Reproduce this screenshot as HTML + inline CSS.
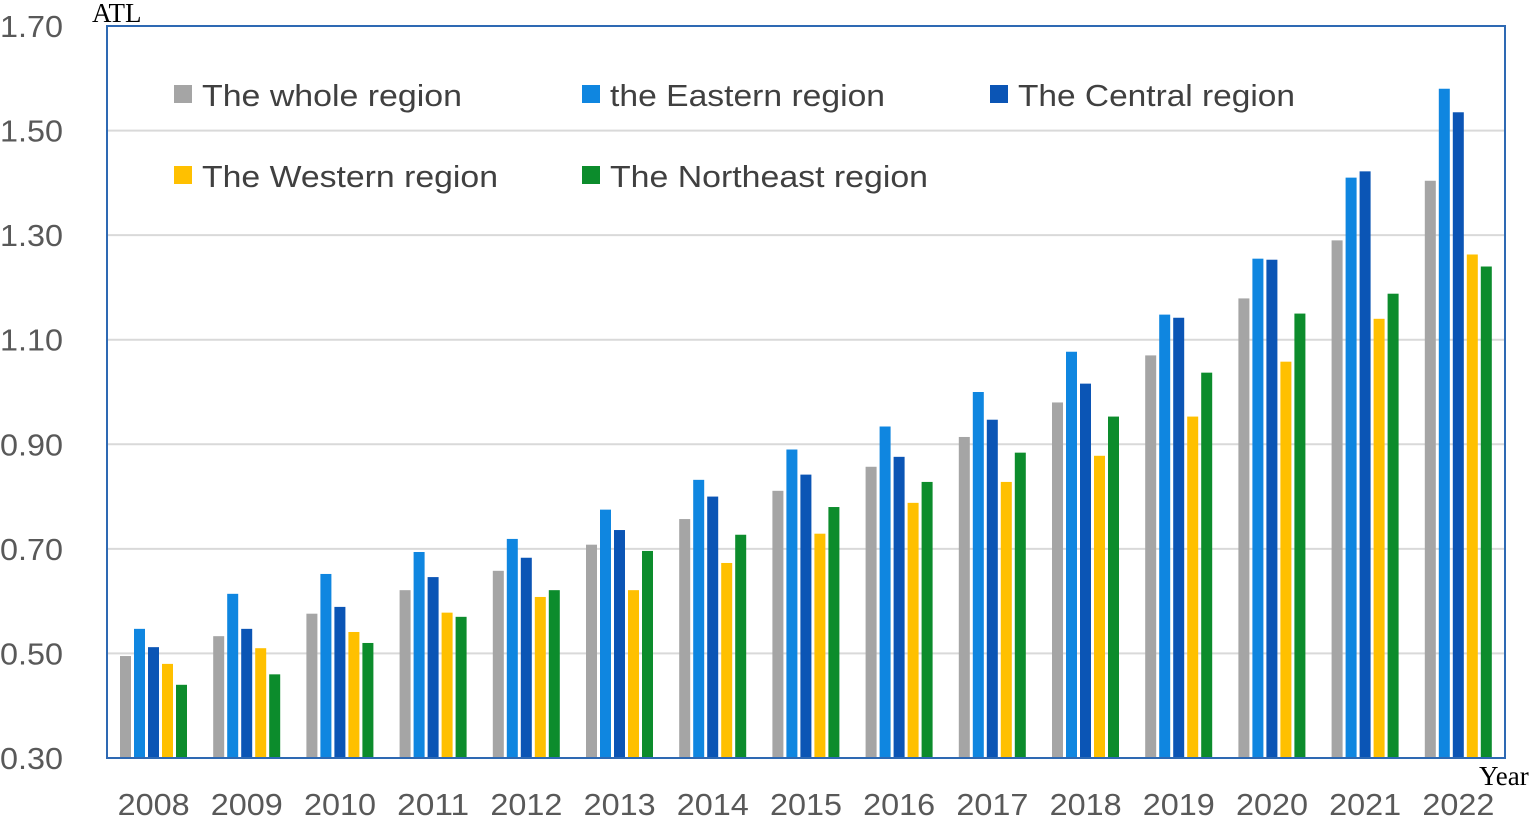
<!DOCTYPE html>
<html><head><meta charset="utf-8"><style>
html,body{margin:0;padding:0;background:#fff;width:1537px;height:817px;overflow:hidden}
svg{display:block;font-family:"Liberation Sans",sans-serif}
</style></head><body>
<svg id="chart" width="1537" height="817" xmlns="http://www.w3.org/2000/svg"></svg>
<script>
const categories=["2008","2009","2010","2011","2012","2013","2014","2015","2016","2017","2018","2019","2020","2021","2022"];
const wholeRegion=[0.495,0.533,0.576,0.621,0.658,0.708,0.757,0.811,0.857,0.914,0.980,1.070,1.179,1.290,1.404];
const easternRegion=[0.547,0.614,0.652,0.694,0.719,0.775,0.832,0.890,0.934,1.000,1.077,1.148,1.255,1.410,1.580];
const centralRegion=[0.512,0.547,0.589,0.646,0.683,0.736,0.800,0.842,0.876,0.947,1.016,1.142,1.253,1.422,1.535];
const westernRegion=[0.480,0.510,0.541,0.578,0.608,0.621,0.673,0.729,0.788,0.828,0.878,0.953,1.058,1.140,1.263];
const northeastRegion=[0.440,0.460,0.520,0.570,0.621,0.696,0.727,0.780,0.828,0.884,0.953,1.037,1.150,1.188,1.240];
const yTicks=[0.30,0.50,0.70,0.90,1.10,1.30,1.50,1.70];
const seriesNames=["The whole region","the Eastern region","The Central region","The Western region","The Northeast region"];

const NS="http://www.w3.org/2000/svg";
const svg=document.getElementById('chart');
const L=107,R=1505,T=26,B=758,yMin=0.30,yMax=1.70;
const y=v=>B-(v-yMin)/(yMax-yMin)*(B-T);
const gw=(R-L)/categories.length;
const x=i=>L+gw*i;
function mk(tag,attrs){const e=document.createElementNS(NS,tag);for(const k in attrs)e.setAttribute(k,attrs[k]);svg.appendChild(e);return e;}
const colors=["#a5a5a5","#0f86e0","#0b55b5","#ffc000","#0c8c2c"];
const series=[wholeRegion,easternRegion,centralRegion,westernRegion,northeastRegion];

yTicks.forEach(t=>{
  if(t>yMin&&t<yMax){const g=mk('line',{x1:L,x2:R,y1:y(t),y2:y(t),stroke:'#d9d9d9','stroke-width':2});
  
  }
  const tx=mk('text',{x:0,y:y(t)+11,'font-size':31,fill:'#595959',textLength:63,lengthAdjust:'spacingAndGlyphs'});
  tx.textContent=t.toFixed(2);
  
  
});
categories.forEach((c,i)=>{
  series.forEach((s,k)=>{
    const bx=x(i)+13+k*14;
    const r=mk('rect',{x:bx,y:y(s[i]),width:11,height:B-y(s[i]),fill:colors[k]});
    
    
  });
  const tx=mk('text',{x:x(i)+gw/2-36,y:815,'font-size':31,fill:'#595959',textLength:72,lengthAdjust:'spacingAndGlyphs'});
  tx.textContent=c;
  
  
});
const fr=mk('rect',{x:L,y:T,width:R-L,height:B-T,fill:'none',stroke:'#2e69b3','stroke-width':2});


const yt=mk('text',{x:92,y:22,'font-size':27,fill:'#000','font-family':'Liberation Serif'});
yt.textContent='ATL';


const xt=mk('text',{x:1479,y:785,'font-size':27,fill:'#000','font-family':'Liberation Serif'});
xt.textContent='Year';


const legPos=[[174,95],[582,95],[990,95],[174,176],[582,176]];
const legW=[260,275,277,296,318];
seriesNames.forEach((n,k)=>{
  const [lx,ly]=legPos[k];
  const sw=mk('rect',{x:lx,y:ly-10,width:18,height:18,fill:colors[k]});
  
  
  const t=mk('text',{x:lx+28,y:ly+11,'font-size':31,fill:'#404040',textLength:legW[k],lengthAdjust:'spacingAndGlyphs'});
  t.textContent=n;
  
  
});
</script>
</body></html>
